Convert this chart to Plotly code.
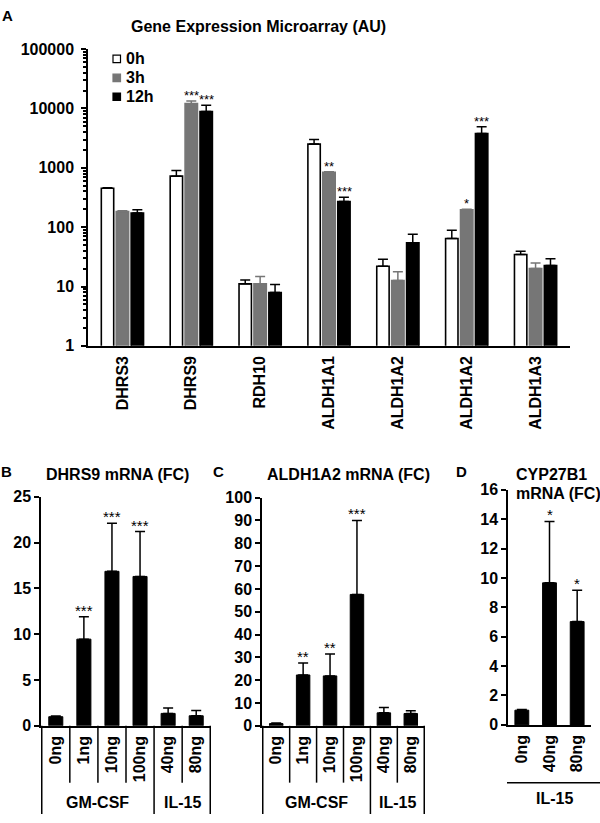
import math
import plotly.graph_objects as go

W, H = 600, 823
FONT = "Liberation Sans, Arial, sans-serif"
GRAY = "#767676"

# ---------------- Panel A data ----------------
gene_keys = ["DHRS3", "DHRS9", "RDH10", "ALDH1A1", "ALDH1A2_a", "ALDH1A2_b", "ALDH1A3"]
gene_labels = ["DHRS3", "DHRS9", "RDH10", "ALDH1A1", "ALDH1A2", "ALDH1A2", "ALDH1A3"]
series_names = ["0h", "3h", "12h"]
h0 = [454, 724, 11.1, 2510, 22.0, 64.6, 34.7]
h0_err = [8, 175, 1.8, 490, 6.7, 24, 4.7]
h3 = [184, 12050, 11.1, 843, 12.6, 197, 20.1]
h3_err = [6, 1290, 3.7, 15, 5.2, 4, 4.9]
h12 = [173, 8890, 7.9, 270, 54.7, 3770, 22.5]
h12_err = [24, 2440, 2.9, 49, 21, 1140, 6.9]
stars_a_gene = [1, 1, 3, 3, 5, 5]
stars_a_series = [1, 2, 1, 2, 1, 2]
stars_a_text = ["***", "***", "**", "***", "*", "***"]
a_ticks = [1, 10, 100, 1000, 10000, 100000]
a_ticktext = ["1", "10", "100", "1000", "10000", "100000"]

# ---------------- Panels B, C ----------------
doses = ["0ng", "1ng", "10ng", "100ng", "40ng", "80ng"]
dose_groups = ["GM-CSF", "GM-CSF", "GM-CSF", "GM-CSF", "IL-15", "IL-15"]
b_vals = [1.0, 9.46, 16.86, 16.3, 1.36, 1.1]
b_err = [0.08, 2.44, 5.24, 4.9, 0.6, 0.58]
b_stars = ["", "***", "***", "***", "", ""]
c_vals = [1.0, 22.3, 21.9, 57.6, 5.7, 5.4]
c_err = [0.2, 5.3, 9.6, 32.4, 2.3, 1.2]
c_stars = ["", "**", "**", "***", "", ""]

# ---------------- Panel D ----------------
d_doses = ["0ng", "40ng", "80ng"]
d_vals = [1.0, 9.67, 7.03]
d_err = [0.05, 4.18, 2.13]
d_stars = ["", "*", "*"]


def xd(a, b):
    return [a / W, b / W]


def yd(top, bottom):
    return [1 - bottom / H, 1 - top / H]


def px(x):
    return x / W


def py(y):
    return 1 - y / H


fig = go.Figure()

# Panel A bars
a_series = [(h0, h0_err, "white", "black", "black"),
            (h3, h3_err, GRAY, GRAY, GRAY),
            (h12, h12_err, "black", "black", "black")]
for name, (vals, errs, fill, edge, ecol) in zip(series_names, a_series):
    fig.add_trace(go.Bar(
        x=gene_keys, y=vals, name=name, showlegend=False,
        marker=dict(color=fill, line=dict(color=edge, width=1.6)),
        error_y=dict(type="data", array=errs, arrayminus=[0] * len(errs), symmetric=False,
                     color=ecol, thickness=1.5, width=5),
        xaxis="x", yaxis="y"))

# Panels B, C, D bars
for vals, errs, cats, xa, ya in [(b_vals, b_err, doses, "x2", "y2"),
                                 (c_vals, c_err, doses, "x3", "y3"),
                                 (d_vals, d_err, d_doses, "x4", "y4")]:
    fig.add_trace(go.Bar(
        x=cats, y=vals, width=0.5, showlegend=False,
        marker=dict(color="black", line=dict(color="black", width=1)),
        error_y=dict(type="data", array=errs, arrayminus=[0] * len(errs), symmetric=False,
                     color="black", thickness=1.5, width=5),
        xaxis=xa, yaxis=ya))

tf = dict(family=FONT, size=16, color="black", weight="bold")
axis_common = dict(showline=True, linecolor="black", linewidth=1.5, showgrid=False,
                   zeroline=False, tickfont=tf, color="black")

layout = dict(
    width=W, height=H, autosize=False,
    margin=dict(l=0, r=0, t=0, b=0),
    paper_bgcolor="white", plot_bgcolor="white",
    barmode="group", bargap=0.35, bargroupgap=0.17,
    font=dict(family=FONT, color="black"),
    showlegend=False,
    xaxis=dict(domain=xd(88, 570), anchor="y", type="category", ticks="",
               tickvals=gene_keys, ticktext=gene_labels, tickangle=-90,
               ticklabelstandoff=2, **axis_common),
    yaxis=dict(domain=yd(42, 345), anchor="x", type="log", range=[0, 5],
               tickvals=a_ticks, ticktext=a_ticktext, ticks="outside", ticklen=5,
               tickwidth=1.5, tickcolor="black", ticklabelstandoff=4,
               minor=dict(ticks="outside", ticklen=3, tickcolor="black", dtick="D1", showgrid=False),
               **axis_common),
    xaxis2=dict(domain=xd(41, 211), anchor="y2", type="category", ticks="", tickangle=-90,
                ticklabelstandoff=2, **axis_common),
    yaxis2=dict(domain=yd(499, 733), anchor="x2", range=[0, 25], dtick=5, ticks="outside",
                ticklen=5, tickwidth=1.5, tickcolor="black", **axis_common),
    xaxis3=dict(domain=xd(262, 425), anchor="y3", type="category", ticks="", tickangle=-90,
                ticklabelstandoff=2, **axis_common),
    yaxis3=dict(domain=yd(500, 733), anchor="x3", range=[0, 100], dtick=10, ticks="outside",
                ticklen=5, tickwidth=1.5, tickcolor="black", **axis_common),
    xaxis4=dict(domain=xd(508, 591), anchor="y4", type="category", ticks="", tickangle=-90,
                ticklabelstandoff=2, **axis_common),
    yaxis4=dict(domain=yd(492, 732), anchor="x4", range=[0, 16], dtick=2, ticks="outside",
                ticklen=5, tickwidth=1.5, tickcolor="black", **axis_common),
)
fig.update_layout(**layout)

ann = []
shapes = []


def label(text, x, y, size=16, bold=True, xanchor="center", yanchor="middle"):
    t = f"<b>{text}</b>" if bold else text
    ann.append(dict(text=t, x=px(x), y=py(y), xref="paper", yref="paper", showarrow=False,
                    xanchor=xanchor, yanchor=yanchor,
                    font=dict(family=FONT, size=size, color="black")))


# Panel letters and titles
label("A", 7, 8, size=15)
label("Gene Expression Microarray (AU)", 258, 19)
label("B", 6, 473, size=15)
label("DHRS9 mRNA (FC)", 117, 476)
label("C", 218, 473, size=15)
label("ALDH1A2 mRNA (FC)", 348, 476)
label("D", 461, 473, size=15)
label("CYP27B1", 514, 476, size=16, xanchor="left")
label("mRNA (FC)", 514, 496, size=16, xanchor="left")

# Manual legend for panel A
legend_fill = [("white", "black"), (GRAY, GRAY), ("black", "black")]
for i, (name, (fill, edge)) in enumerate(zip(series_names, legend_fill)):
    cy = 52 + i * 19.3
    shapes.append(dict(type="rect", xref="paper", yref="paper",
                       x0=px(113), x1=px(120.5), y0=py(cy + 3.8), y1=py(cy - 3.8),
                       fillcolor=fill, line=dict(color=edge, width=1.2)))
    label(name, 124, cy, size=16, xanchor="left")

# Panel A stars
a_vals = [h0, h3, h12]
a_errs = [h0_err, h3_err, h12_err]
for g, s, t in zip(stars_a_gene, stars_a_series, stars_a_text):
    top = a_vals[s][g] + a_errs[s][g]
    ann.append(dict(text=t, x=gene_keys[g], y=math.log10(top), xref="x", yref="y",
                    xshift=(s - 1) * 15, yshift=-4, showarrow=False, yanchor="bottom",
                    font=dict(family=FONT, size=13, color="black")))

# Stars in B, C, D
for cats, vals, errs, stars, xa, ya in [(doses, b_vals, b_err, b_stars, "x2", "y2"),
                                        (doses, c_vals, c_err, c_stars, "x3", "y3"),
                                        (d_doses, d_vals, d_err, d_stars, "x4", "y4")]:
    for c, v, e, s in zip(cats, vals, errs, stars):
        if s:
            ann.append(dict(text=s, x=c, y=v + e, xref=xa, yref=ya, showarrow=False,
                            yanchor="bottom", yshift=-4,
                            font=dict(family=FONT, size=15, color="black")))

# Multi-level category separators for B and C
for xa in ["x2", "x3"]:
    n = len(doses)
    for i in range(n + 1):
        left = dose_groups[i - 1] if i > 0 else None
        right = dose_groups[i] if i < n else None
        long_line = (left != right)
        shapes.append(dict(type="line", xref=xa, yref="paper",
                           x0=i - 0.5, x1=i - 0.5,
                           y0=py(733), y1=0 if long_line else py(791),
                           line=dict(color="black", width=1.5)))
    groups_seen = []
    for gname in dose_groups:
        if gname not in groups_seen:
            groups_seen.append(gname)
    for gname in groups_seen:
        idx = [i for i, g in enumerate(dose_groups) if g == gname]
        center = (idx[0] + idx[-1]) / 2
        ann.append(dict(text=f"<b>{gname}</b>", x=center, y=py(811), xref=xa, yref="paper",
                        showarrow=False, yanchor="middle",
                        font=dict(family=FONT, size=16, color="black")))

# Panel D group line and label
shapes.append(dict(type="line", xref="paper", yref="paper", x0=px(507), x1=1,
                   y0=py(791), y1=py(791), line=dict(color="black", width=1.5)))
label("IL-15", 554, 807)

fig.update_layout(annotations=ann, shapes=shapes)
fig.write_html(
    "out.html",
    config={"displayModeBar": False},
    post_script="document.body.style.margin='0';document.body.style.overflow='hidden';",
)
